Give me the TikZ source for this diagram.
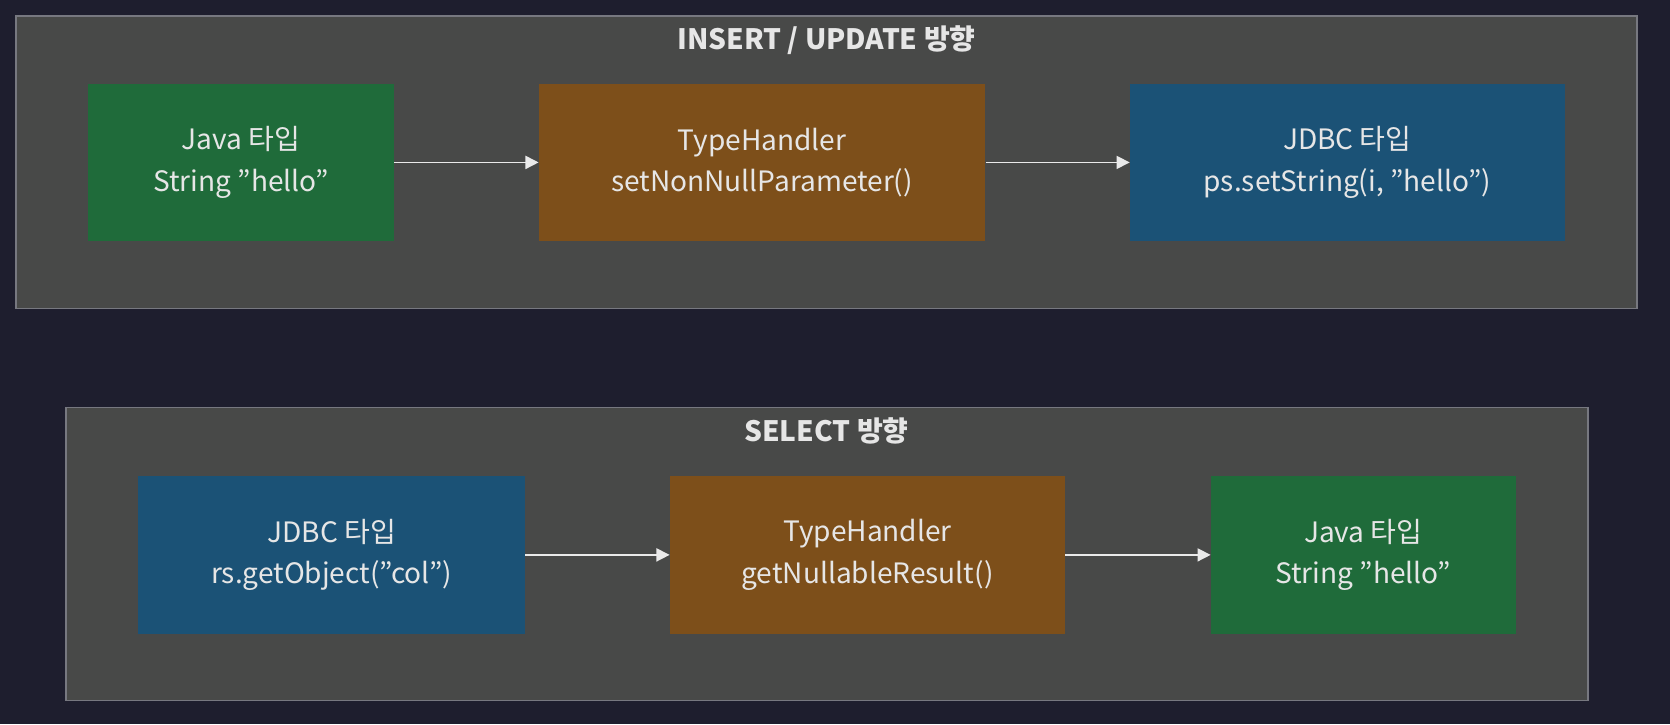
\documentclass[tikz,border=0pt]{standalone}
\usepackage{fontspec}
\setmainfont{Noto Sans CJK KR}
\usetikzlibrary{arrows.meta}
\definecolor{bgdark}{HTML}{1E1E2E}
\definecolor{groupfill}{HTML}{484948}
\definecolor{groupline}{HTML}{777880}
\definecolor{javagreen}{HTML}{1F6B3A}
\definecolor{handlerbrown}{HTML}{7D4F1A}
\definecolor{jdbcblue}{HTML}{1B5276}
\definecolor{textlight}{HTML}{E6E6E6}

\tikzset{
  box/.style={minimum height=2.96cm, text=textlight, align=center,
    font=\fontsize{15}{22}\selectfont},
  group/.style={fill=groupfill, draw=groupline, line width=0.6pt},
  title/.style={text=textlight, font=\fontsize{15}{18}\selectfont\bfseries},
  flow/.style={draw=textlight!85, line width=0.8pt, -{Triangle[length=7pt,width=7pt]}}
}

\begin{document}
\begin{tikzpicture}[x=0.02cm,y=-0.02cm]
  \fill[bgdark] (0,0) rectangle (1568,680);
  \useasboundingbox (0,0) rectangle (1568,680);

  % INSERT / UPDATE
  \draw[group] (15,15) rectangle (1537,290);
  \node[title] (tin) at (776,38) {INSERT / UPDATE 방향};
  \node[box, fill=javagreen, minimum width=5.74cm] (jin) at (226.5,152.5) {Java 타입\\String "hello"};
  \node[box, fill=handlerbrown, minimum width=8.38cm] (hin) at (715.5,152.5) {TypeHandler\\setNonNullParameter()};
  \node[box, fill=jdbcblue, minimum width=8.16cm] (din) at (1265,152.5) {JDBC 타입\\ps.setString(i, "hello")};
  \draw[flow] (jin) -- (hin);
  \draw[flow] (hin) -- (din);

  % SELECT
  \draw[group] (62,383) rectangle (1491,658);
  \node[title] (tsel) at (776,405) {SELECT 방향};
  \node[box, fill=jdbcblue, minimum width=7.26cm] (dsel) at (311.5,521) {JDBC 타입\\rs.getObject("col")};
  \node[box, fill=handlerbrown, minimum width=7.42cm] (hsel) at (814.5,521) {TypeHandler\\getNullableResult()};
  \node[box, fill=javagreen, minimum width=5.72cm] (jsel) at (1280,521) {Java 타입\\String "hello"};
  \draw[flow] (dsel) -- (hsel);
  \draw[flow] (hsel) -- (jsel);
\end{tikzpicture}
\end{document}
